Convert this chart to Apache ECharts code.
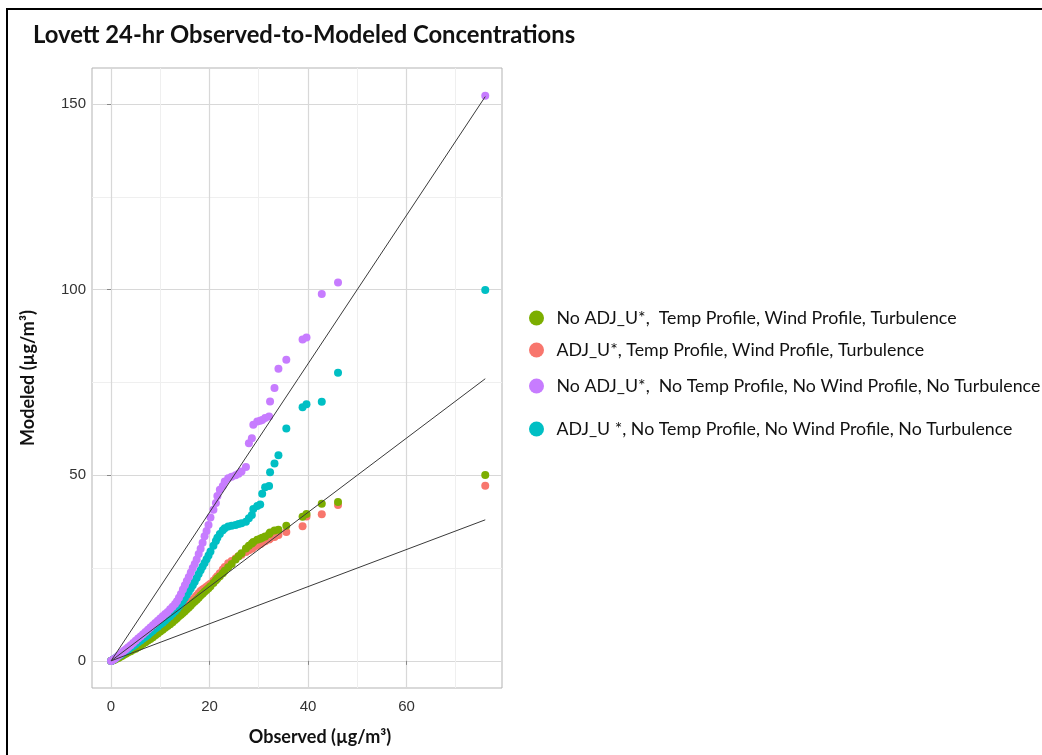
<!DOCTYPE html>
<html>
<head>
<meta charset="utf-8">
<script src="https://cdn.jsdelivr.net/npm/echarts@6/dist/echarts.min.js"></script>
<style>
  html, body { margin: 0; padding: 0; background: #fff; }
  #chart { width: 1042px; height: 755px; }
  #frame {
    position: absolute; left: 6px; top: 8px; width: 1100px; height: 800px;
    border-left: 2px solid #000; border-top: 2px solid #000; pointer-events: none;
  }
</style>
</head>
<body>
<div id="chart"></div>
<div id="frame"></div>
<script>
// sorted observed concentrations (shared by every run)
const observed = [0, 0.2, 0.5, 0.8, 1.1, 1.5, 1.9, 2.3, 2.7, 3.1,
  3.5, 4.0, 4.5, 5.0, 5.5, 6.0, 6.5, 7.0, 7.5, 8.0,
  8.5, 9.0, 9.5, 10.0, 10.5, 11.0, 11.5, 12.0, 12.5, 13.0,
  13.4, 13.8, 14.2, 14.6, 15.0, 15.4, 15.8, 16.2, 16.6, 17.0,
  17.4, 17.8, 18.2, 18.6, 19.0, 19.4, 19.8, 20.2, 20.8, 21.3,
  21.6, 22.1, 22.7, 23.1, 23.8, 24.5, 25.3, 25.9, 26.5, 27.4,
  28.0, 28.6, 28.9, 29.7, 30.3, 30.7, 31.3, 32.1, 32.3, 33.2,
  34.0, 35.6, 38.9, 39.7, 42.8, 46.1, 76.0];

// sorted modeled concentrations per run
const noAdjProfiles = [0, 0.1, 0.2, 0.4, 0.6, 0.8, 1.1, 1.4, 1.7, 2.0,
  2.3, 2.6, 3.0, 3.3, 3.7, 4.1, 4.6, 5.0, 5.5, 5.9,
  6.4, 6.9, 7.4, 7.9, 8.4, 8.9, 9.4, 9.9, 10.4, 11.0,
  11.5, 12.0, 12.4, 12.9, 13.4, 13.9, 14.4, 14.9, 15.5, 16.0,
  16.5, 17.0, 17.6, 18.1, 18.6, 19.1, 19.6, 20.1, 21.0, 21.7,
  22.2, 22.8, 23.6, 24.3, 25.2, 26.1, 27.3, 28.2, 29.0, 30.3,
  31.0, 31.6, 32.0, 32.6, 32.9, 33.2, 33.5, 34.2, 34.6, 35.1,
  35.3, 36.4, 38.8, 39.6, 42.3, 42.8, 50.1];
const adjProfiles = [0, 0.1, 0.3, 0.5, 0.7, 1.0, 1.3, 1.6, 2.0, 2.3,
  2.6, 3.0, 3.4, 3.8, 4.2, 4.7, 5.1, 5.6, 6.0, 6.5,
  7.0, 7.5, 8.0, 8.5, 9.0, 9.5, 10.0, 10.6, 11.1, 11.7,
  12.2, 12.7, 13.2, 13.7, 14.2, 14.8, 15.3, 15.9, 16.5, 17.0,
  17.6, 18.2, 18.8, 19.2, 19.6, 20.0, 20.4, 20.8, 21.6, 22.3,
  22.8, 23.6, 24.6, 25.3, 26.3, 26.9, 27.6, 28.2, 28.6, 29.3,
  29.8, 30.2, 30.6, 31.0, 31.4, 31.8, 32.2, 32.7, 33.0, 33.4,
  33.9, 34.7, 36.3, 38.9, 39.5, 42.0, 47.2];
const noAdjNoProfiles = [0, 0.1, 0.4, 0.6, 0.9, 1.4, 1.8, 2.3, 2.8, 3.2,
  3.7, 4.2, 4.8, 5.4, 6.0, 6.6, 7.2, 7.8, 8.4, 9.0,
  9.6, 10.2, 10.8, 11.4, 12.0, 12.6, 13.2, 13.9, 14.6, 15.3,
  16.1, 17.0, 18.0, 19.2, 20.4, 21.5, 22.6, 23.8, 25.0, 26.1,
  27.3, 28.8, 30.2, 31.8, 33.6, 35.0, 36.6, 38.6, 40.7, 42.5,
  44.4, 46.1, 47.1, 48.3, 49.2, 49.6, 50.0, 50.4, 51.0, 52.2,
  58.6, 60.0, 63.6, 64.5, 64.7, 64.9, 65.4, 65.8, 69.9, 73.5,
  78.7, 81.1, 86.6, 87.1, 98.8, 101.9, 152.2];
const adjNoProfiles = [0, 0.1, 0.4, 0.6, 0.9, 1.3, 1.6, 2.0, 2.4, 2.8,
  3.1, 3.6, 4.0, 4.5, 5.0, 5.5, 6.0, 6.5, 7.0, 7.6,
  8.1, 8.7, 9.2, 9.8, 10.3, 10.9, 11.5, 12.0, 12.7, 13.4,
  14.0, 14.7, 15.4, 16.2, 17.0, 17.8, 18.6, 19.5, 20.4, 21.3,
  22.3, 23.4, 24.4, 25.4, 26.4, 27.4, 28.4, 29.5, 31.0, 32.3,
  33.2, 34.2, 35.2, 35.7, 36.2, 36.4, 36.6, 36.9, 37.1, 37.5,
  38.4, 39.3, 40.9, 41.7, 42.1, 45.0, 46.8, 47.1, 50.8, 53.2,
  55.4, 62.6, 68.3, 69.1, 69.8, 77.6, 99.9];

// reference lines 2:1, 1:1, 1:2 (endpoints)
const refX = [0, 76];
const ref2to1 = [0, 152];
const ref1to1 = [0, 76];
const ref1to2 = [0, 38];

const xTicks = [0, 20, 40, 60];
const yTicks = [0, 50, 100, 150];

const seriesNames = [
  'No ADJ_U*,  Temp Profile, Wind Profile, Turbulence',
  'ADJ_U*, Temp Profile, Wind Profile, Turbulence',
  'No ADJ_U*,  No Temp Profile, No Wind Profile, No Turbulence',
  'ADJ_U *, No Temp Profile, No Wind Profile, No Turbulence'
];
const seriesColors = ['#7CAE00', '#F8766D', '#C77CFF', '#00BFC4'];
const legendTops = [309, 341, 377, 420];

const pairs = (xs, ys) => xs.map((x, i) => [x, ys[i]]);

const chart = echarts.init(document.getElementById('chart'));

const scatter = (idx, ys) => ({
  name: seriesNames[idx],
  type: 'scatter',
  data: pairs(observed, ys),
  symbolSize: 8,
  itemStyle: { color: seriesColors[idx], opacity: 1 },
  silent: true
});

const refLine = (ys) => ({
  type: 'line',
  data: pairs(refX, ys),
  symbol: 'none',
  lineStyle: { color: '#3a3a3a', width: 1 },
  silent: true,
  z: 3
});

const option = {
  animation: false,
  backgroundColor: '#fff',
  color: seriesColors,
  title: {
    text: 'Lovett 24-hr Observed-to-Modeled Concentrations',
    left: 28,
    top: 18,
    textStyle: { fontFamily: 'Lato', fontWeight: 'bold', fontSize: 23.8, color: '#111' }
  },
  legend: seriesNames.map((name, i) => ({
    data: [name],
    left: 529,
    top: legendTops[i],
    padding: 0,
    icon: 'circle',
    itemWidth: 30,
    itemHeight: 15,
    selectedMode: false,
    textStyle: { fontFamily: 'Lato', fontSize: 17.8, lineHeight: 18, color: '#111' }
  })),
  grid: {
    left: 92, top: 68, width: 410, height: 620,
    show: true, borderColor: '#b3b3b3', borderWidth: 1, backgroundColor: '#fff'
  },
  xAxis: {
    type: 'value',
    min: -3.86,
    max: 79.4,
    splitNumber: 4,
    name: 'Observed (µg/m³)',
    nameLocation: 'middle',
    nameGap: 40,
    nameTextStyle: {
      fontFamily: 'Lato', fontWeight: 'bold', fontSize: 18, color: '#111',
      padding: [0, 0, 0, 46]
    },
    axisLine: { show: false },
    axisTick: { show: true, length: 4, customValues: xTicks, lineStyle: { color: '#888' } },
    axisLabel: {
      customValues: xTicks, margin: 11,
      fontFamily: 'Liberation Sans', fontSize: 15, color: '#333'
    },
    splitLine: { show: true, lineStyle: { color: '#d8d8d8', width: 1.2 } },
    minorTick: { show: false, splitNumber: 2 },
    minorSplitLine: { show: true, lineStyle: { color: '#efefef', width: 1 } }
  },
  yAxis: {
    type: 'value',
    min: -7.3,
    max: 159.7,
    splitNumber: 3,
    name: 'Modeled (µg/m³)',
    nameLocation: 'middle',
    nameGap: 55,
    nameTextStyle: { fontFamily: 'Lato', fontWeight: 'bold', fontSize: 18, color: '#111' },
    axisLine: { show: false },
    axisTick: { show: true, length: 4, customValues: yTicks, lineStyle: { color: '#888' } },
    axisLabel: {
      customValues: yTicks, margin: 6,
      fontFamily: 'Liberation Sans', fontSize: 15, color: '#333'
    },
    splitLine: { show: true, lineStyle: { color: '#d8d8d8', width: 1.2 } },
    minorTick: { show: false, splitNumber: 2 },
    minorSplitLine: { show: true, lineStyle: { color: '#efefef', width: 1 } }
  },
  series: [
    scatter(1, adjProfiles),
    scatter(0, noAdjProfiles),
    scatter(3, adjNoProfiles),
    scatter(2, noAdjNoProfiles),
    refLine(ref2to1),
    refLine(ref1to1),
    refLine(ref1to2)
  ]
};

chart.setOption(option);
</script>
</body>
</html>
